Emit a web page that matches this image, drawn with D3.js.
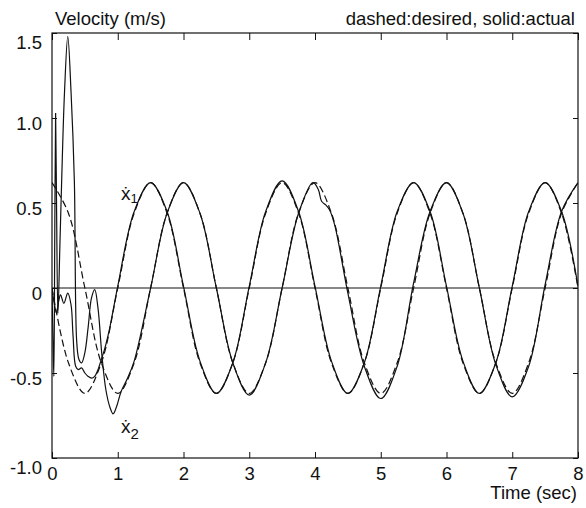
<!DOCTYPE html>
<html>
<head>
<meta charset="utf-8">
<script src="https://cdn.jsdelivr.net/npm/d3@7"></script>
<style>
  html, body { margin: 0; padding: 0; background: #fff; }
  svg { display: block; }
  text { font-family: "Liberation Sans", Arial, Helvetica, sans-serif; fill: #111; }
</style>
</head>
<body>
<svg id="chart" width="586" height="508"></svg>
<script>
// ---- data ----
const xTicks = [0, 1, 2, 3, 4, 5, 6, 7, 8];
const xTickLabels = ["0", "1", "2", "3", "4", "5", "6", "7", "8"];
const yTicks = [-1, -0.5, 0, 0.5, 1, 1.5];
const yTickLabels = ["-1.0", "-0.5", "0", "0.5", "1.0", "1.5"];

// desired (dashed) trajectories
const tDes = [0,0.25,0.5,0.75,1,1.25,1.5,1.75,2,2.25,2.5,2.75,3,3.25,3.5,3.75,4,4.25,4.5,4.75,5,5.25,5.5,5.75,6,6.25,6.5,6.75,7,7.25,7.5,7.75,8];
const x1Des = [0,-0.44,-0.62,-0.44,0,0.44,0.62,0.44,0,-0.44,-0.62,-0.44,0,0.44,0.62,0.44,0,-0.44,-0.62,-0.44,0,0.44,0.62,0.44,0,-0.44,-0.62,-0.44,0,0.44,0.62,0.44,0];
const x2Des = [0.62,0.44,0,-0.44,-0.62,-0.44,0,0.44,0.62,0.44,0,-0.44,-0.62,-0.44,0,0.44,0.62,0.44,0,-0.44,-0.62,-0.44,0,0.44,0.62,0.44,0,-0.44,-0.62,-0.44,0,0.44,0.62];

// actual (solid) trajectories
const t1Act = [0,0.03,0.07,0.1,0.13,0.18,0.24,0.29,0.32,0.36,0.4,0.45,0.5,0.55,0.6,0.65,0.7,0.75,0.8,0.875,1,
  1.25,1.5,1.75,2,2.25,2.5,2.75,3,3.25,3.5,3.75,4,4.25,4.5,4.75,5,5.25,5.5,5.75,6,6.25,6.5,6.75,7,7.25,7.5,7.75,8];
const x1Act = [0,-0.08,-0.15,-0.08,-0.04,-0.09,-0.03,-0.1,-0.28,-0.46,-0.48,-0.47,-0.5,-0.52,-0.53,-0.52,-0.48,-0.42,-0.36,-0.24,0.01,
  0.45,0.62,0.45,0.01,-0.43,-0.62,-0.44,0.01,0.45,0.63,0.45,0.01,-0.43,-0.62,-0.44,0.01,0.45,0.62,0.45,0.01,-0.43,-0.62,-0.44,0.01,0.45,0.62,0.45,0.01];

const t2Act = [0,0.015,0.028,0.042,0.055,0.07,0.09,0.12,0.147,0.19,0.24,0.29,0.34,0.375,0.41,0.45,0.5,0.55,0.6,0.65,0.7,0.76,0.82,0.88,0.93,0.98,1.05,1.15,1.25,
  1.5,1.75,2,2.25,2.5,2.75,3,3.25,3.5,3.75,3.97,4.05,4.1,4.16,4.22,4.3,4.5,4.75,5,5.25,5.5,5.75,6,6.25,6.5,6.75,7,7.25,7.5,7.75,8];
const x2Act = [0,-0.3,-0.52,0.3,1.03,0.45,-0.15,0.25,0.63,1.15,1.48,1.15,0.63,-0.31,-0.42,-0.44,-0.38,-0.23,-0.06,-0.01,-0.12,-0.4,-0.6,-0.7,-0.74,-0.7,-0.61,-0.53,-0.43,
  0,0.44,0.62,0.44,0,-0.44,-0.63,-0.44,0,0.44,0.62,0.58,0.51,0.49,0.46,0.37,-0.03,-0.46,-0.65,-0.46,0.03,0.45,0.62,0.44,0,-0.45,-0.64,-0.46,0.02,0.45,0.62];

(function () {
  const svg = d3.select("#chart");
  const L = 52, R = 578, T = 33, B = 458;
  const x = d3.scaleLinear().domain([0, 8]).range([L, R]);
  const y = d3.scaleLinear().domain([-1, 1.5]).range([B, T]);
  const FS = 18.5;

  svg.append("defs").append("clipPath").attr("id", "clip")
    .append("rect").attr("x", L).attr("y", T).attr("width", R - L).attr("height", B - T);

  // axes (ticks inward)
  const gBottom = svg.append("g").attr("transform", `translate(0,${B})`)
    .call(d3.axisBottom(x).tickValues(xTicks).tickFormat((d, i) => xTickLabels[i]).tickSizeInner(-6).tickSizeOuter(0));
  gBottom.select(".domain").remove();
  gBottom.selectAll("text").attr("y", 22).attr("dy", null).style("font-size", FS + "px");

  const gTop = svg.append("g").attr("transform", `translate(0,${T})`)
    .call(d3.axisTop(x).tickValues(xTicks).tickFormat("").tickSizeInner(-7).tickSizeOuter(0));
  gTop.select(".domain").remove();

  const gLeft = svg.append("g").attr("transform", `translate(${L},0)`)
    .call(d3.axisLeft(y).tickValues(yTicks).tickFormat((d, i) => yTickLabels[i]).tickSizeInner(-5).tickSizeOuter(0));
  gLeft.select(".domain").remove();
  gLeft.selectAll("text").attr("x", -10).attr("dy", null)
    .attr("y", d => (d === 1.5 || d === -1) ? 15.5 : 11.5)
    .style("font-size", FS + "px");

  const gRight = svg.append("g").attr("transform", `translate(${R},0)`)
    .call(d3.axisRight(y).tickValues(yTicks).tickFormat("").tickSizeInner(-5).tickSizeOuter(0));
  gRight.select(".domain").remove();

  svg.selectAll(".tick line").attr("stroke", "#111").attr("stroke-width", 1);
  svg.selectAll(".tick text").attr("fill", "#111");

  // zero line
  svg.append("line").attr("x1", L).attr("x2", R).attr("y1", y(0)).attr("y2", y(0))
    .attr("stroke", "#111").attr("stroke-width", 1);

  // curves
  const lineOf = (ts, vs) => d3.line()
    .x((d, i) => x(ts[i])).y(d => y(d))
    .curve(d3.curveCatmullRom.alpha(0.5))(vs);

  const plot = svg.append("g").attr("clip-path", "url(#clip)");
  [[tDes, x1Des], [tDes, x2Des]].forEach(([ts, vs]) => {
    plot.append("path").attr("d", lineOf(ts, vs)).attr("fill", "none")
      .attr("stroke", "#111").attr("stroke-width", 1.2).attr("stroke-dasharray", "7,3.5");
  });
  [[t1Act, x1Act], [t2Act, x2Act]].forEach(([ts, vs]) => {
    plot.append("path").attr("d", lineOf(ts, vs)).attr("fill", "none")
      .attr("stroke", "#111").attr("stroke-width", 1.2);
  });

  // frame
  svg.append("rect").attr("x", L).attr("y", T).attr("width", R - L).attr("height", B - T)
    .attr("fill", "none").attr("stroke", "#111").attr("stroke-width", 1.2);

  // texts
  svg.append("text").attr("x", 55).attr("y", 25).style("font-size", FS + "px").text("Velocity (m/s)");
  svg.append("text").attr("x", 575).attr("y", 25).attr("text-anchor", "end").style("font-size", FS + "px")
    .text("dashed:desired, solid:actual");
  svg.append("text").attr("x", 577).attr("y", 499).attr("text-anchor", "end").style("font-size", FS + "px")
    .text("Time (sec)");

  const l1 = svg.append("text").attr("x", 121).attr("y", 200).style("font-size", "19px");
  l1.append("tspan").text("ẋ");
  l1.append("tspan").attr("dy", 3).style("font-size", "13px").text("1");

  const l2 = svg.append("text").attr("x", 121).attr("y", 433).style("font-size", "19px");
  l2.append("tspan").text("ẋ");
  l2.append("tspan").attr("dy", 6).style("font-size", "15px").text("2");
})();
</script>
</body>
</html>
